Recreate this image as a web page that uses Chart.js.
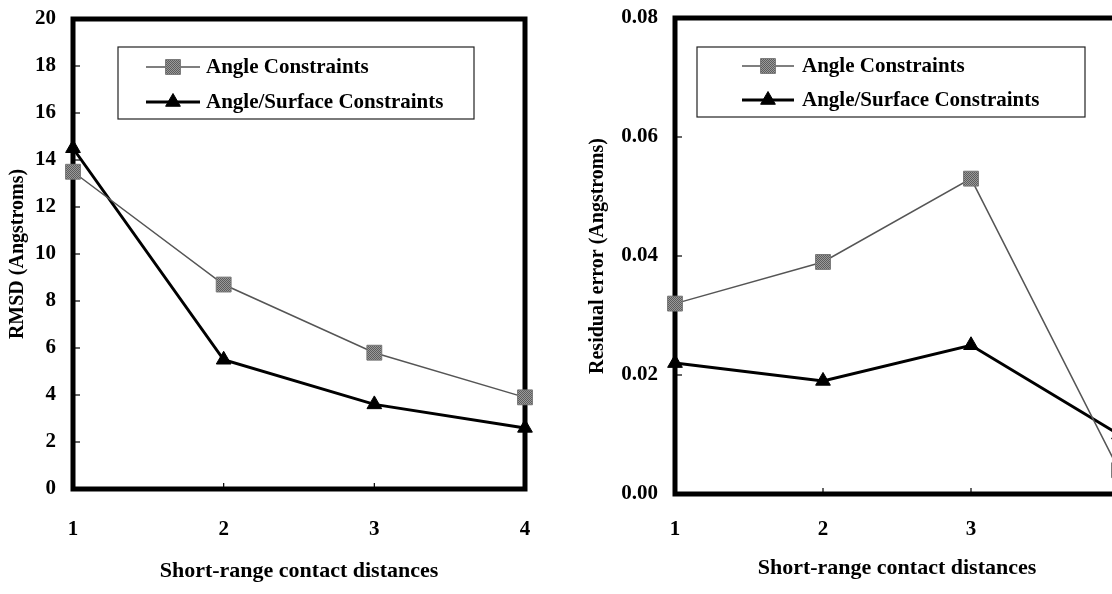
<!DOCTYPE html>
<html><head><meta charset="utf-8">
<script src="https://cdn.jsdelivr.net/npm/chart.js@4.4.0/dist/chart.umd.min.js"></script>
<style>
html,body{margin:0;padding:0;overflow:hidden;background:#fff;width:1112px;height:594px;position:relative;}
#left{position:absolute;left:0;top:0;width:556px;height:594px;}
#right{position:absolute;left:560px;top:0;width:580px;height:594px;}
</style></head><body>
<div id="left"><canvas id="c1"></canvas></div>
<div id="right"><canvas id="c2"></canvas></div>
<script>
// ---- data ----
const categories = ['1', '2', '3', '4'];
const seriesNames = ['Angle Constraints', 'Angle/Surface Constraints'];
const rmsdAngle = [13.5, 8.7, 5.8, 3.9];
const rmsdAngleSurface = [14.5, 5.5, 3.6, 2.6];
const residualAngle = [0.032, 0.039, 0.053, 0.004];
const residualAngleSurface = [0.022, 0.019, 0.025, 0.010];
const rmsdTickLabels = ['0', '2', '4', '6', '8', '10', '12', '14', '16', '18', '20'];
const residualTickLabels = ['0.00', '0.02', '0.04', '0.06', '0.08'];
const xTitle = 'Short-range contact distances';
const leftYTitle = 'RMSD (Angstroms)';
const rightYTitle = 'Residual error (Angstroms)';

// ---- styling ----
const FONT = "'Liberation Serif', 'Times New Roman', serif";
Chart.defaults.font.family = FONT;
Chart.defaults.color = '#000';

function ditherPattern() {
  const p = document.createElement('canvas');
  p.width = 2; p.height = 2;
  const g = p.getContext('2d');
  g.fillStyle = '#9a9a9a'; g.fillRect(0, 0, 2, 2);
  g.fillStyle = '#5c5c5c'; g.fillRect(0, 0, 1, 1); g.fillRect(1, 1, 1, 1);
  return document.getElementById('c1').getContext('2d').createPattern(p, 'repeat');
}
const squareFill = ditherPattern();

function makeDatasets(a, b) {
  return [
    { label: seriesNames[0], data: a, borderColor: '#555', borderWidth: 1.5,
      pointStyle: 'rect', pointRadius: 10.5, pointBackgroundColor: squareFill,
      pointBorderColor: '#777', pointBorderWidth: 1, clip: false, tension: 0 },
    { label: seriesNames[1], data: b, borderColor: '#000', borderWidth: 3,
      pointStyle: 'triangle', pointRadius: 8.5, pointBackgroundColor: '#000',
      pointBorderColor: '#000', pointBorderWidth: 1, clip: false, tension: 0 }
  ];
}

const framePlugin = {
  id: 'frame',
  beforeDatasetsDraw(chart, args, opts) {
    const { ctx, chartArea: ca, scales } = chart;
    ctx.save();
    // inner tick marks
    ctx.strokeStyle = '#000';
    ctx.lineWidth = 1.2;
    scales.y.ticks.forEach(t => {
      const y = scales.y.getPixelForValue(t.value);
      ctx.beginPath(); ctx.moveTo(ca.left, y); ctx.lineTo(ca.left + 7, y); ctx.stroke();
    });
    categories.forEach((c, i) => {
      const x = scales.x.getPixelForValue(i);
      ctx.beginPath(); ctx.moveTo(x, ca.bottom); ctx.lineTo(x, ca.bottom - 6); ctx.stroke();
    });
    // thick frame
    ctx.lineWidth = 5;
    ctx.strokeStyle = '#000';
    ctx.strokeRect(ca.left, ca.top, ca.right - ca.left, ca.bottom - ca.top);
    // legend box
    const L = opts.legend;
    const bx = ca.left + L.x, by = ca.top + L.y;
    ctx.lineWidth = 1.2;
    ctx.strokeStyle = '#222';
    ctx.strokeRect(bx, by, L.w, L.h);
    ctx.font = 'bold 21px ' + FONT;
    ctx.textBaseline = 'middle';
    ctx.textAlign = 'left';
    chart.data.datasets.forEach((ds, i) => {
      const ry = by + L.rows[i];
      ctx.strokeStyle = ds.borderColor;
      ctx.lineWidth = ds.borderWidth;
      ctx.beginPath(); ctx.moveTo(bx + L.line0, ry); ctx.lineTo(bx + L.line1, ry); ctx.stroke();
      ctx.fillStyle = ds.pointBackgroundColor;
      ctx.strokeStyle = ds.pointBorderColor;
      ctx.lineWidth = ds.pointBorderWidth;
      Chart.helpers.drawPoint(ctx, { pointStyle: ds.pointStyle, radius: ds.pointRadius, rotation: 0, borderWidth: ds.pointBorderWidth },
        bx + (L.line0 + L.line1) / 2, ry);
      ctx.fillStyle = '#000';
      ctx.fillText(ds.label, bx + L.text, ry + 1);
    });
    ctx.restore();
  }
};

function makeChart(id, a, b, tickLabels, maxV, step, yTitle, geom) {
  return new Chart(document.getElementById(id), {
    type: 'line',
    data: { labels: categories, datasets: makeDatasets(a, b) },
    plugins: [framePlugin],
    options: {
      responsive: true, maintainAspectRatio: false, animation: false,
      devicePixelRatio: 1,
      layout: { padding: geom.padding, autoPadding: false },
      plugins: { legend: { display: false }, tooltip: { enabled: false }, frame: { legend: geom.legend } },
      scales: {
        x: {
          type: 'category', offset: false,
          grid: { display: false, drawTicks: false }, border: { display: false },
          ticks: { padding: geom.xTickPad, font: { size: 21, weight: 'bold' }, color: '#000', maxRotation: 0 },
          title: { display: true, text: xTitle, font: { size: 22, weight: 'bold' }, color: '#000', padding: { top: 0, bottom: 0 } },
          afterFit: s => { s.height = geom.xHeight; s.paddingLeft = 0; s.paddingRight = 0; }
        },
        y: {
          min: 0, max: maxV,
          grid: { display: false, drawTicks: false }, border: { display: false },
          ticks: { stepSize: step, padding: 17, font: { size: 21, weight: 'bold' }, color: '#000',
                   callback: (v, i) => tickLabels[i] },
          title: { display: true, text: yTitle, font: { size: 20, weight: 'bold' }, color: '#000', padding: { top: 0, bottom: 0 } },
          afterFit: s => { s.width = geom.yWidth; s.paddingTop = 0; s.paddingBottom = 0; }
        }
      }
    }
  });
}

makeChart('c1', rmsdAngle, rmsdAngleSurface, rmsdTickLabels, 20, 2, leftYTitle, {
  padding: { left: 6, top: 19, right: 31, bottom: 9 },
  yWidth: 67, xHeight: 96, xTickPad: 28,
  legend: { x: 45, y: 28, w: 356, h: 72, rows: [20, 55], line0: 28, line1: 82, text: 88 }
});
makeChart('c2', residualAngle, residualAngleSurface, residualTickLabels, 0.08, 0.02, rightYTitle, {
  padding: { left: 26, top: 18, right: 21, bottom: 12 },
  yWidth: 89, xHeight: 88, xTickPad: 23,
  legend: { x: 22, y: 29, w: 388, h: 70, rows: [19, 53], line0: 45, line1: 97, text: 105 }
});
</script>
</body></html>
